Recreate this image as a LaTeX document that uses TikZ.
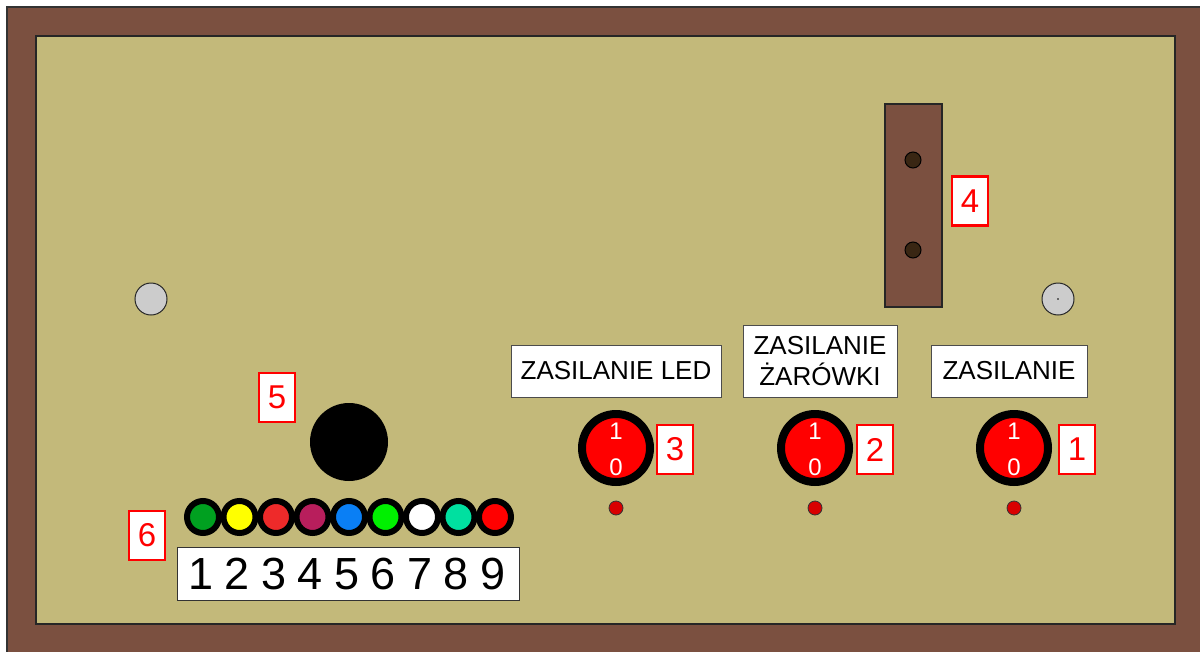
\documentclass[tikz,border=0pt]{standalone}
\usepackage{fontspec}
\setmainfont{Liberation Sans}
\begin{document}
\begin{tikzpicture}[x=1pt,y=-1pt,
  lbl/.style={draw=black!70,fill=white,line width=1pt,font=\fontsize{26}{31}\selectfont,inner sep=0pt,align=center},
  tag/.style={draw=red,fill=white,line width=2.8pt,text=red,font=\fontsize{33}{33}\selectfont,minimum width=36pt,minimum height=49pt,inner sep=0pt},
  knob/.style={circle,draw=black,fill=red,line width=8pt,minimum size=68pt,inner sep=0pt},
  ledsmall/.style={circle,draw=black!80,fill=red!85!black,line width=0.8pt,minimum size=14pt,inner sep=0pt},
  led/.style={circle,draw=black,line width=6pt,minimum size=32pt,inner sep=0pt},
  screw/.style={circle,draw=black!85,fill=black!20,line width=1pt,minimum size=32pt,inner sep=0pt},
  hole/.style={circle,draw=black,fill=brown!30!black,line width=1pt,minimum size=16pt,inner sep=0pt},
  knobtxt/.style={text=white,font=\fontsize{24}{24}\selectfont,inner sep=0pt}]
\definecolor{frame}{HTML}{7B5040}
\definecolor{board}{HTML}{C3B97A}
\definecolor{block}{HTML}{7B5040}
\useasboundingbox (0,0) rectangle (1200,651);
\fill[white] (0,0) rectangle (1200,651);
\draw[fill=frame,draw=black!80,line width=1.5pt] (7,7) rectangle (1210,660);
\draw[fill=board,draw=black!85,line width=2pt] (36,36) rectangle (1175,624);
% screws
\node[screw] (s1) at (151,299) {};
\node[screw] (s2) at (1058,299) {};
\fill[black] (s2.center) circle (0.9);
% brown block
\node[draw=black!85,fill=block,line width=1.2pt,minimum width=57pt,minimum height=203pt,inner sep=0pt] (blk) at (913.5,205.5) {};
\node[hole] (h1) at (913,160) {};
\node[hole] (h2) at (913,250) {};
\node[tag] (t4) at (970,201) {4};
% labels
\node[lbl,minimum width=210pt,minimum height=52pt] (l3) at (616,371) {ZASILANIE LED};
\node[lbl,minimum width=154pt,minimum height=72pt] (l2) at (820,361) {ZASILANIE\\ŻARÓWKI};
\node[lbl,minimum width=156pt,minimum height=52pt] (l1) at (1009,371) {ZASILANIE};
% knobs
\foreach \n/\x in {3/616,2/815,1/1014}{
  \node[knob] (k\n) at (\x,448) {};
  \node[knobtxt] (k\n a) at (\x,431) {1};
  \node[knobtxt] (k\n b) at (\x,467) {0};
  \node[ledsmall] (d\n) at (\x,508) {};
}
\node[tag] (t3) at (675,449.5) {3};
\node[tag] (t2) at (875,449.5) {2};
\node[tag] (t1) at (1077,449.5) {1};
% speaker
\node[circle,fill=black,minimum size=78pt,inner sep=0pt] (spk) at (349,442) {};
\node[tag] (t5) at (277,397.5) {5};
% LED row
\node[draw=black!80,fill=white,line width=1pt,minimum width=342pt,minimum height=53pt,inner sep=0pt] (nums) at (348,573.5) {};
\foreach \i/\c in {1/00A020,2/FFFF00,3/EE2A2A,4/B81E5C,5/0A7FF5,6/00F000,7/FFFFFF,8/00E0A0,9/FF0000}{
  \definecolor{ledc}{HTML}{\c}
  \node[led,fill=ledc] (led\i) at ({203+36.5*(\i-1)},517) {};
  \node[font=\fontsize{45}{45}\selectfont,inner sep=0pt] (n\i) at ({201+36.5*(\i-1)},574) {\i};
}
\node[tag] (t6) at (147,535.5) {6};
\end{tikzpicture}
\end{document}
